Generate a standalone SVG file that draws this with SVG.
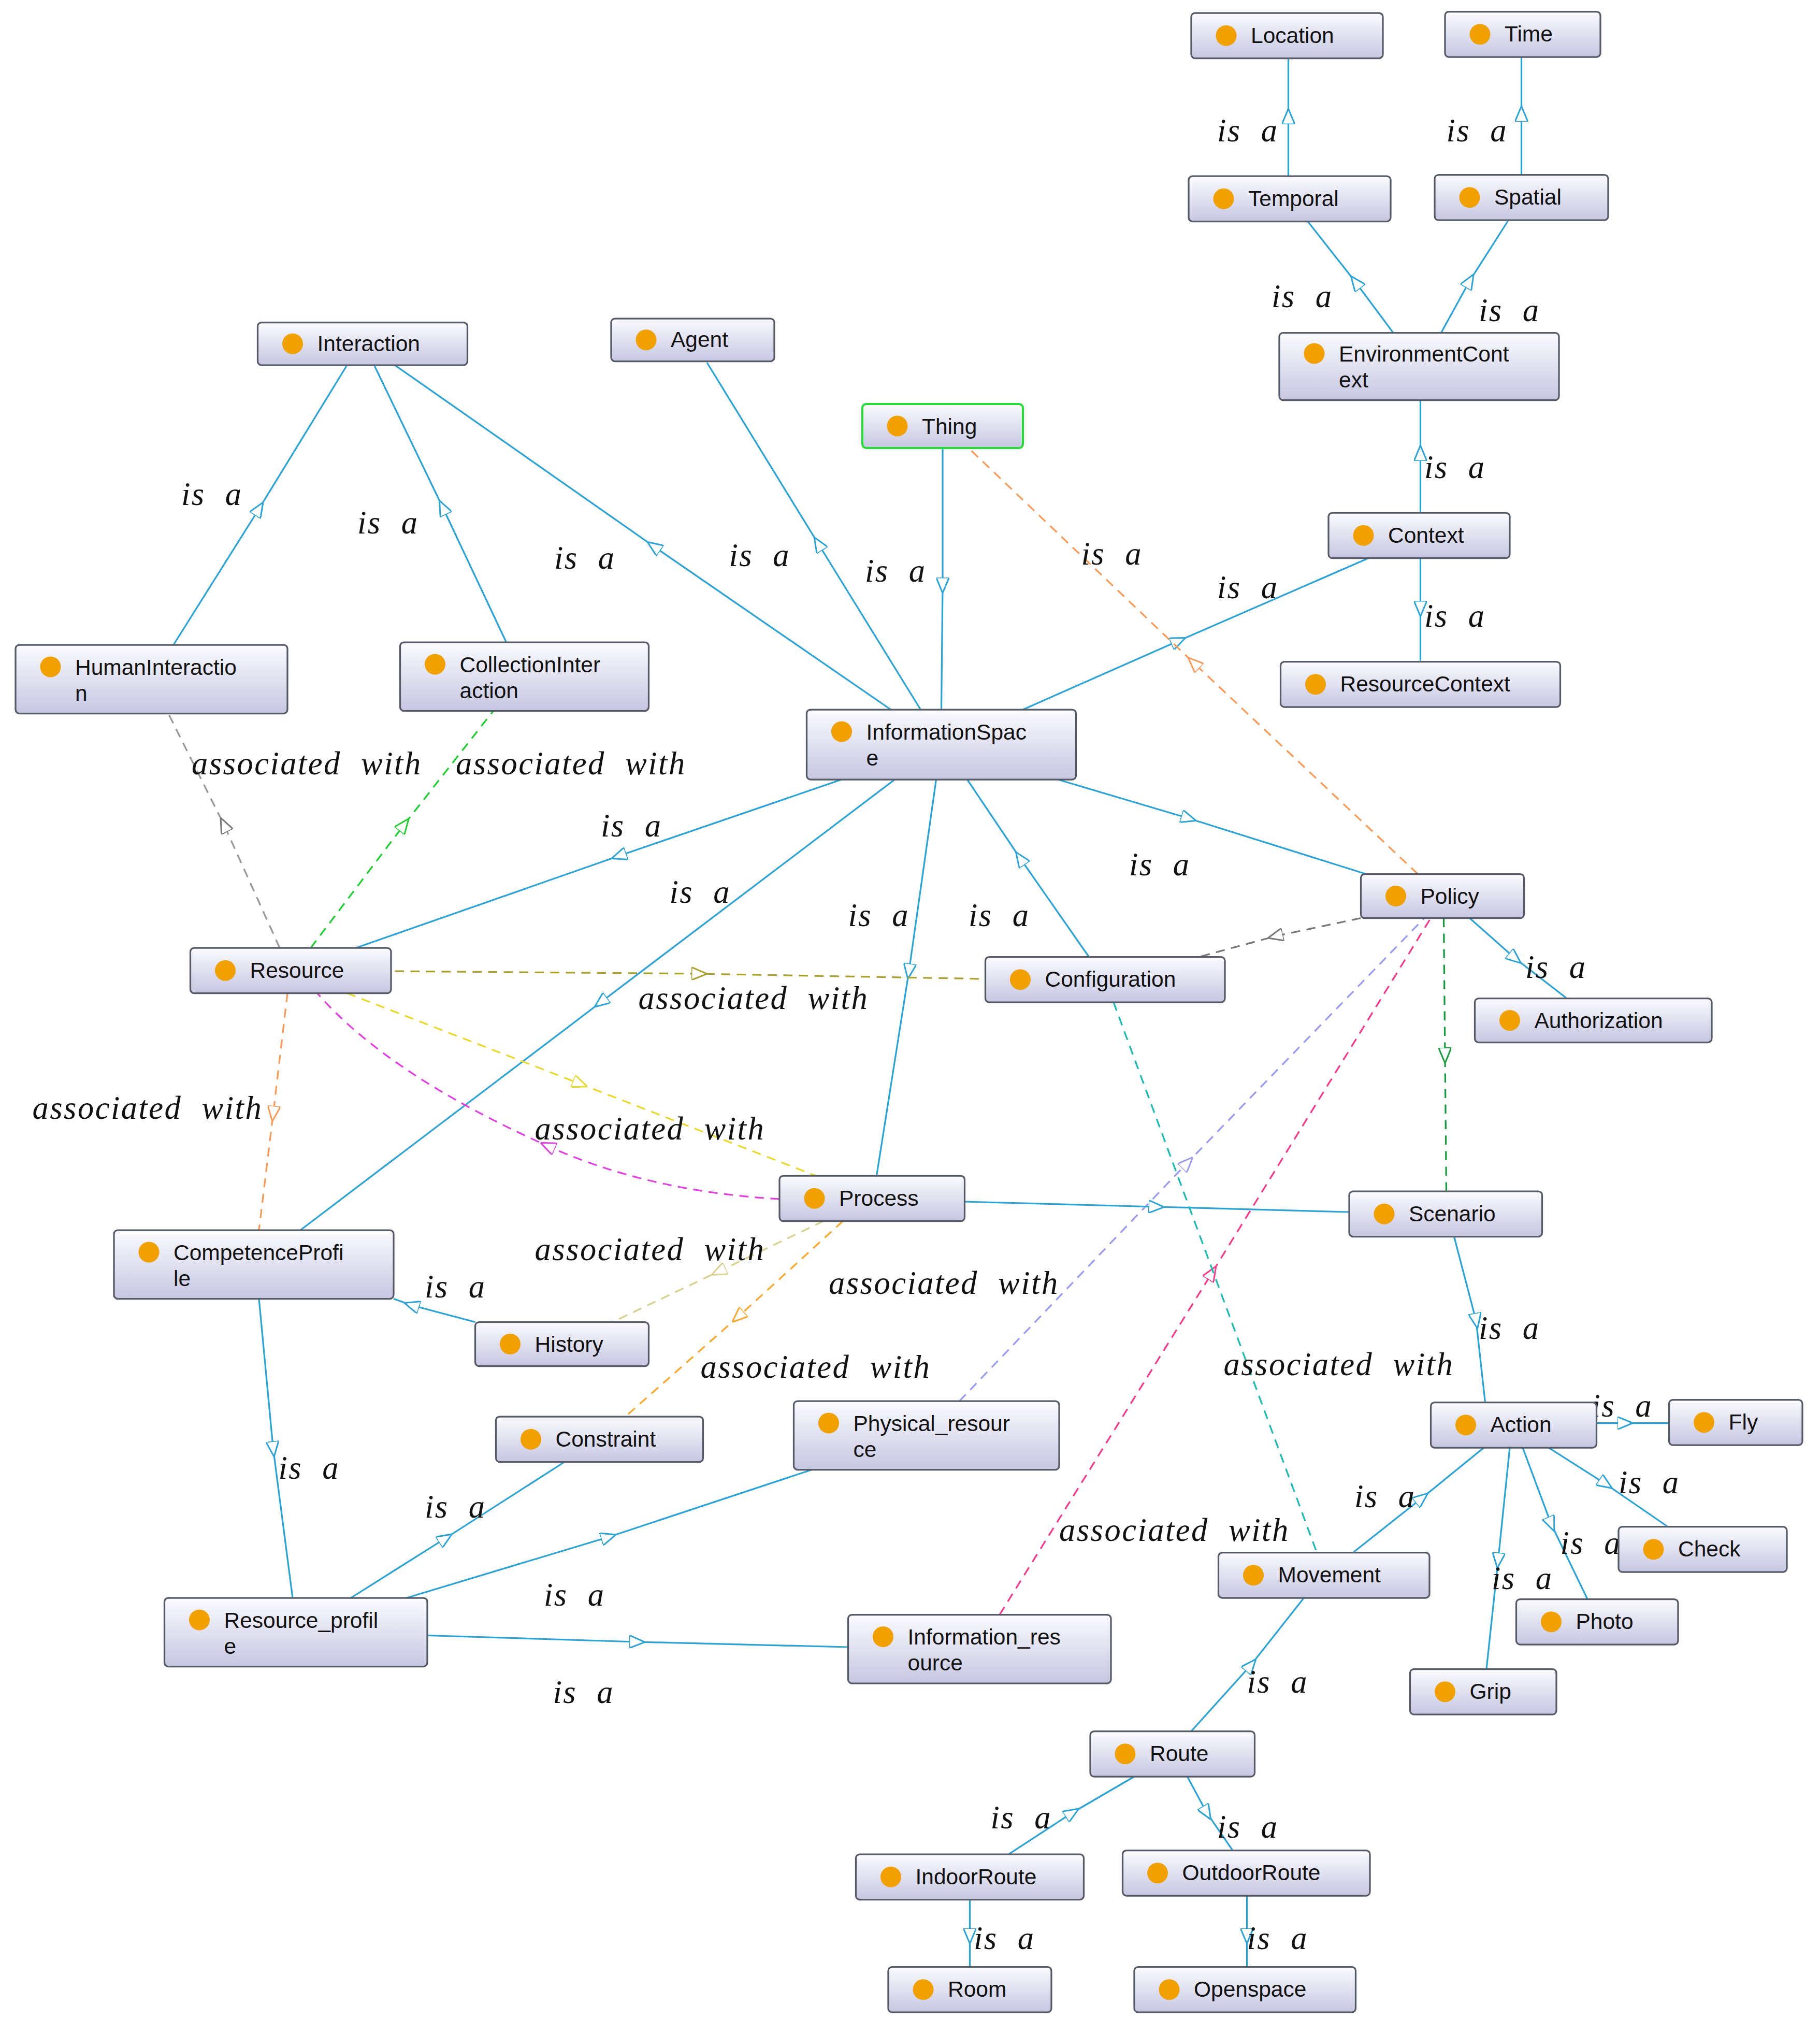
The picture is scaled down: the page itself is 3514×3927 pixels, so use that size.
<svg xmlns="http://www.w3.org/2000/svg" width="3514" height="3927" viewBox="0 0 3514 3927">
<style>
.n rect{fill:url(#g);stroke:#555a66;stroke-width:1.3}
.n circle{fill:#f0a000}
.n text{font-family:"Liberation Sans",Arial,sans-serif;font-size:17px;fill:#111}
.e path{fill:none;stroke-width:1.3}
.l{font-family:"Liberation Serif","DejaVu Serif",serif;font-style:italic;font-size:25px;letter-spacing:1px;word-spacing:8px;fill:#111}
.b{stroke:#2ea3d3;marker-mid:url(#mb)}
.d{stroke-dasharray:7 5}
</style>
<defs>
<linearGradient id="g" x1="0" y1="0" x2="0" y2="1"><stop offset="0" stop-color="#fbfbff"/><stop offset="1" stop-color="#c6c6e2"/></linearGradient>
<marker id="mb" viewBox="0 0 12 10" refX="6" refY="5" markerWidth="12" markerHeight="10" markerUnits="userSpaceOnUse" orient="auto"><path d="M0,0L12,5L0,10z" fill="#fff" stroke="#2ea3d3" stroke-width="1.2"/></marker>
<marker id="mo" viewBox="0 0 12 10" refX="6" refY="5" markerWidth="12" markerHeight="10" markerUnits="userSpaceOnUse" orient="auto"><path d="M0,0L12,5L0,10z" fill="#fff" stroke="#f79a5a" stroke-width="1.2"/></marker>
<marker id="mg" viewBox="0 0 12 10" refX="6" refY="5" markerWidth="12" markerHeight="10" markerUnits="userSpaceOnUse" orient="auto"><path d="M0,0L12,5L0,10z" fill="#fff" stroke="#777" stroke-width="1.2"/></marker>
<marker id="mgr" viewBox="0 0 12 10" refX="6" refY="5" markerWidth="12" markerHeight="10" markerUnits="userSpaceOnUse" orient="auto"><path d="M0,0L12,5L0,10z" fill="#fff" stroke="#22cc33" stroke-width="1.2"/></marker>
<marker id="mdg" viewBox="0 0 12 10" refX="6" refY="5" markerWidth="12" markerHeight="10" markerUnits="userSpaceOnUse" orient="auto"><path d="M0,0L12,5L0,10z" fill="#fff" stroke="#1a9a40" stroke-width="1.2"/></marker>
<marker id="mol" viewBox="0 0 12 10" refX="6" refY="5" markerWidth="12" markerHeight="10" markerUnits="userSpaceOnUse" orient="auto"><path d="M0,0L12,5L0,10z" fill="#fff" stroke="#aaa030" stroke-width="1.2"/></marker>
<marker id="my" viewBox="0 0 12 10" refX="6" refY="5" markerWidth="12" markerHeight="10" markerUnits="userSpaceOnUse" orient="auto"><path d="M0,0L12,5L0,10z" fill="#fff" stroke="#e8d830" stroke-width="1.2"/></marker>
<marker id="mm" viewBox="0 0 12 10" refX="6" refY="5" markerWidth="12" markerHeight="10" markerUnits="userSpaceOnUse" orient="auto"><path d="M0,0L12,5L0,10z" fill="#fff" stroke="#e040e0" stroke-width="1.2"/></marker>
<marker id="mt" viewBox="0 0 12 10" refX="6" refY="5" markerWidth="12" markerHeight="10" markerUnits="userSpaceOnUse" orient="auto"><path d="M0,0L12,5L0,10z" fill="#fff" stroke="#d8d090" stroke-width="1.2"/></marker>
<marker id="mla" viewBox="0 0 12 10" refX="6" refY="5" markerWidth="12" markerHeight="10" markerUnits="userSpaceOnUse" orient="auto"><path d="M0,0L12,5L0,10z" fill="#fff" stroke="#9a9af0" stroke-width="1.2"/></marker>
<marker id="mp" viewBox="0 0 12 10" refX="6" refY="5" markerWidth="12" markerHeight="10" markerUnits="userSpaceOnUse" orient="auto"><path d="M0,0L12,5L0,10z" fill="#fff" stroke="#f03c8c" stroke-width="1.2"/></marker>
<marker id="mo2" viewBox="0 0 12 10" refX="6" refY="5" markerWidth="12" markerHeight="10" markerUnits="userSpaceOnUse" orient="auto"><path d="M0,0L12,5L0,10z" fill="#fff" stroke="#f8a830" stroke-width="1.2"/></marker>
</defs>
<rect width="3514" height="3927" fill="#fff"/>
<g transform="scale(2.5)">
<g id="connectors" class="e">
<path class="b" d="M995,136L995,90L995,45"/>
<path class="b" d="M1175,135L1175,88L1175,44"/>
<path class="b" d="M1076,257L1047,218L1010,171"/>
<path class="b" d="M1113,257L1135,217L1165,170"/>
<path class="b" d="M1097,396L1097,350L1097,309"/>
<path class="b" d="M1097,431L1097,470L1097,511"/>
<path class="b" d="M790,548L910,495L1057,431"/>
<path class="b" d="M134,498L200,393L268,282"/>
<path class="b" d="M391,496L342,392L289,282"/>
<path class="b" d="M688,548L505,422L305,282"/>
<path class="b" d="M711,548L632,420L546,280"/>
<path class="b" d="M728,346L728,452L727,548"/>
<path class="d" stroke="#f79a5a" marker-mid="url(#mo)" d="M1095,675L922,512L748,346"/>
<path class="b" d="M650,602L478,661L275,732"/>
<path class="b" d="M691,602L464,774L232,950"/>
<path class="b" d="M723,602L702,750L677,908"/>
<path class="b" d="M841,739L788,663L747,602"/>
<path class="b" d="M817,602L918,632L1055,675"/>
<path class="b" d="M1135,709L1170,740L1210,771"/>
<path class="d" stroke="#777" marker-mid="url(#mg)" d="M1051,709L985,723L926,739"/>
<path class="d" stroke="#1a9a40" marker-mid="url(#mdg)" d="M1115,709L1116,815L1117,920"/>
<path class="d" stroke="#9a9af0" marker-mid="url(#mla)" d="M741,1082L917,898L1100,709"/>
<path class="d" stroke="#f03c8c" marker-mid="url(#mp)" d="M772,1247L936,983L1105,709"/>
<path class="d" stroke="#20b8b0" d="M860,774L1017,1199"/>
<path class="d" stroke="#aaa030" marker-mid="url(#mol)" d="M305,750L540,752L761,756"/>
<path class="d" stroke="#999" marker-mid="url(#mg)" d="M216,732L173,637L130,551"/>
<path class="d" stroke="#22cc33" marker-mid="url(#mgr)" d="M240,732L312,637L381,549"/>
<path class="d" stroke="#f79a5a" marker-mid="url(#mo)" d="M222,767L211,860L200,950"/>
<path class="d" stroke="#e8d830" marker-mid="url(#my)" d="M268,767L448,837L630,908"/>
<path class="d" stroke="#e040e0" marker-mid="url(#mm)" d="M602,926Q500,920 423,885Q300,830 245,767"/>
<path class="d" stroke="#d8d090" marker-mid="url(#mt)" d="M636,943L555,982L473,1021"/>
<path class="d" stroke="#f8a830" marker-mid="url(#mo2)" d="M651,943L570,1017L483,1094"/>
<path class="b" d="M745,928L893,932L1042,936"/>
<path class="b" d="M367,1021L318,1008L304,1003"/>
<path class="b" d="M200,1003L211,1119L226,1234"/>
<path class="b" d="M271,1234L344,1188L436,1129"/>
<path class="b" d="M314,1234L470,1187L627,1135"/>
<path class="b" d="M330,1263L492,1268L655,1272"/>
<path class="b" d="M1123,955L1140,1020L1147,1083"/>
<path class="b" d="M1233,1099L1255,1099L1289,1099"/>
<path class="b" d="M1196,1118L1240,1146L1288,1179"/>
<path class="b" d="M1176,1118L1198,1177L1226,1235"/>
<path class="b" d="M1166,1118L1157,1205L1148,1289"/>
<path class="b" d="M1045,1199L1098,1157L1146,1118"/>
<path class="b" d="M920,1337L966,1286L1007,1234"/>
<path class="b" d="M779,1432L828,1400L876,1372"/>
<path class="b" d="M917,1372L932,1400L952,1429"/>
<path class="b" d="M749,1467L749,1495L749,1519"/>
<path class="b" d="M963,1464L963,1495L963,1519"/>
<g class="l">
<text x="940" y="109">is a</text><text x="1117" y="109">is a</text><text x="982" y="237">is a</text><text x="1142" y="248">is a</text>
<text x="1100" y="369">is a</text><text x="1100" y="484">is a</text><text x="940" y="462">is a</text><text x="140" y="390">is a</text>
<text x="276" y="412">is a</text><text x="428" y="439">is a</text><text x="563" y="437">is a</text><text x="668" y="449">is a</text>
<text x="835" y="436">is a</text><text x="464" y="646">is a</text><text x="517" y="697">is a</text><text x="655" y="715">is a</text>
<text x="748" y="715">is a</text><text x="872" y="676">is a</text><text x="1178" y="755">is a</text><text x="328" y="1002">is a</text>
<text x="215" y="1142">is a</text><text x="328" y="1172">is a</text><text x="420" y="1240">is a</text><text x="427" y="1315">is a</text>
<text x="1142" y="1034">is a</text><text x="1229" y="1094">is a</text><text x="1250" y="1153">is a</text><text x="1205" y="1200">is a</text>
<text x="1152" y="1227">is a</text><text x="1046" y="1164">is a</text><text x="963" y="1307">is a</text><text x="765" y="1412">is a</text>
<text x="940" y="1419">is a</text><text x="752" y="1505">is a</text><text x="963" y="1505">is a</text>
<text x="148" y="598">associated with</text><text x="352" y="598">associated with</text><text x="493" y="779">associated with</text>
<text x="25" y="864">associated with</text><text x="413" y="880">associated with</text><text x="413" y="973">associated with</text>
<text x="640" y="999">associated with</text><text x="541" y="1064">associated with</text><text x="945" y="1062">associated with</text>
<text x="818" y="1190">associated with</text>
</g>
</g>
<g id="Location" class="n"><rect x="920" y="10" width="148" height="35" rx="3"/><circle cx="947" cy="27.5" r="8"/><text x="966" y="33">Location</text></g>
<g id="Time" class="n"><rect x="1116" y="9" width="120" height="35" rx="3"/><circle cx="1143" cy="26.5" r="8"/><text x="1162" y="32">Time</text></g>
<g id="Temporal" class="n"><rect x="918" y="136" width="156" height="35" rx="3"/><circle cx="945" cy="153.5" r="8"/><text x="964" y="159">Temporal</text></g>
<g id="Spatial" class="n"><rect x="1108" y="135" width="134" height="35" rx="3"/><circle cx="1135" cy="152.5" r="8"/><text x="1154" y="158">Spatial</text></g>
<g id="EnvironmentContext" class="n"><rect x="988" y="257" width="216" height="52" rx="3"/><circle cx="1015" cy="273" r="8"/><text x="1034" y="279">EnvironmentCont</text><text x="1034" y="299">ext</text></g>
<g id="Interaction" class="n"><rect x="199" y="249" width="162" height="33" rx="3"/><circle cx="226" cy="265.5" r="8"/><text x="245" y="271">Interaction</text></g>
<g id="Agent" class="n"><rect x="472" y="246" width="126" height="33" rx="3"/><circle cx="499" cy="262.5" r="8"/><text x="518" y="268">Agent</text></g>
<g id="Thing" class="n"><rect x="666" y="312" width="124" height="34" rx="3" style="stroke:#22dd33;stroke-width:1.6"/><circle cx="693" cy="329" r="8"/><text x="712" y="335">Thing</text></g>
<g id="Context" class="n"><rect x="1026" y="396" width="140" height="35" rx="3"/><circle cx="1053" cy="413.5" r="8"/><text x="1072" y="419">Context</text></g>
<g id="ResourceContext" class="n"><rect x="989" y="511" width="216" height="35" rx="3"/><circle cx="1016" cy="528.5" r="8"/><text x="1035" y="534">ResourceContext</text></g>
<g id="HumanInteraction" class="n"><rect x="12" y="498" width="210" height="53" rx="3"/><circle cx="39" cy="515" r="8"/><text x="58" y="521">HumanInteractio</text><text x="58" y="541">n</text></g>
<g id="CollectionInteraction" class="n"><rect x="309" y="496" width="192" height="53" rx="3"/><circle cx="336" cy="513" r="8"/><text x="355" y="519">CollectionInter</text><text x="355" y="539">action</text></g>
<g id="InformationSpace" class="n"><rect x="623" y="548" width="208" height="54" rx="3"/><circle cx="650" cy="565" r="8"/><text x="669" y="571">InformationSpac</text><text x="669" y="591">e</text></g>
<g id="Policy" class="n"><rect x="1051" y="675" width="126" height="34" rx="3"/><circle cx="1078" cy="692" r="8"/><text x="1097" y="698">Policy</text></g>
<g id="Resource" class="n"><rect x="147" y="732" width="155" height="35" rx="3"/><circle cx="174" cy="749.5" r="8"/><text x="193" y="755">Resource</text></g>
<g id="Configuration" class="n"><rect x="761" y="739" width="185" height="35" rx="3"/><circle cx="788" cy="756.5" r="8"/><text x="807" y="762">Configuration</text></g>
<g id="Authorization" class="n"><rect x="1139" y="771" width="183" height="34" rx="3"/><circle cx="1166" cy="788" r="8"/><text x="1185" y="794">Authorization</text></g>
<g id="Process" class="n"><rect x="602" y="908" width="143" height="35" rx="3"/><circle cx="629" cy="925.5" r="8"/><text x="648" y="931">Process</text></g>
<g id="Scenario" class="n"><rect x="1042" y="920" width="149" height="35" rx="3"/><circle cx="1069" cy="937.5" r="8"/><text x="1088" y="943">Scenario</text></g>
<g id="CompetenceProfile" class="n"><rect x="88" y="950" width="216" height="53" rx="3"/><circle cx="115" cy="967" r="8"/><text x="134" y="973">CompetenceProfi</text><text x="134" y="993">le</text></g>
<g id="History" class="n"><rect x="367" y="1021" width="134" height="34" rx="3"/><circle cx="394" cy="1038" r="8"/><text x="413" y="1044">History</text></g>
<g id="Constraint" class="n"><rect x="383" y="1094" width="160" height="35" rx="3"/><circle cx="410" cy="1111.5" r="8"/><text x="429" y="1117">Constraint</text></g>
<g id="Physical_resource" class="n"><rect x="613" y="1082" width="205" height="53" rx="3"/><circle cx="640" cy="1099" r="8"/><text x="659" y="1105">Physical_resour</text><text x="659" y="1125">ce</text></g>
<g id="Action" class="n"><rect x="1105" y="1083" width="128" height="35" rx="3"/><circle cx="1132" cy="1100.5" r="8"/><text x="1151" y="1106">Action</text></g>
<g id="Fly" class="n"><rect x="1289" y="1081" width="103" height="35" rx="3"/><circle cx="1316" cy="1098.5" r="8"/><text x="1335" y="1104">Fly</text></g>
<g id="Check" class="n"><rect x="1250" y="1179" width="130" height="35" rx="3"/><circle cx="1277" cy="1196.5" r="8"/><text x="1296" y="1202">Check</text></g>
<g id="Movement" class="n"><rect x="941" y="1199" width="163" height="35" rx="3"/><circle cx="968" cy="1216.5" r="8"/><text x="987" y="1222">Movement</text></g>
<g id="Photo" class="n"><rect x="1171" y="1235" width="125" height="35" rx="3"/><circle cx="1198" cy="1252.5" r="8"/><text x="1217" y="1258">Photo</text></g>
<g id="Grip" class="n"><rect x="1089" y="1289" width="113" height="35" rx="3"/><circle cx="1116" cy="1306.5" r="8"/><text x="1135" y="1312">Grip</text></g>
<g id="Resource_profile" class="n"><rect x="127" y="1234" width="203" height="53" rx="3"/><circle cx="154" cy="1251" r="8"/><text x="173" y="1257">Resource_profil</text><text x="173" y="1277">e</text></g>
<g id="Information_resource" class="n"><rect x="655" y="1247" width="203" height="53" rx="3"/><circle cx="682" cy="1264" r="8"/><text x="701" y="1270">Information_res</text><text x="701" y="1290">ource</text></g>
<g id="Route" class="n"><rect x="842" y="1337" width="127" height="35" rx="3"/><circle cx="869" cy="1354.5" r="8"/><text x="888" y="1360">Route</text></g>
<g id="IndoorRoute" class="n"><rect x="661" y="1432" width="176" height="35" rx="3"/><circle cx="688" cy="1449.5" r="8"/><text x="707" y="1455">IndoorRoute</text></g>
<g id="OutdoorRoute" class="n"><rect x="867" y="1429" width="191" height="35" rx="3"/><circle cx="894" cy="1446.5" r="8"/><text x="913" y="1452">OutdoorRoute</text></g>
<g id="Room" class="n"><rect x="686" y="1519" width="126" height="35" rx="3"/><circle cx="713" cy="1536.5" r="8"/><text x="732" y="1542">Room</text></g>
<g id="Openspace" class="n"><rect x="876" y="1519" width="171" height="35" rx="3"/><circle cx="903" cy="1536.5" r="8"/><text x="922" y="1542">Openspace</text></g>
</g>
</svg>
